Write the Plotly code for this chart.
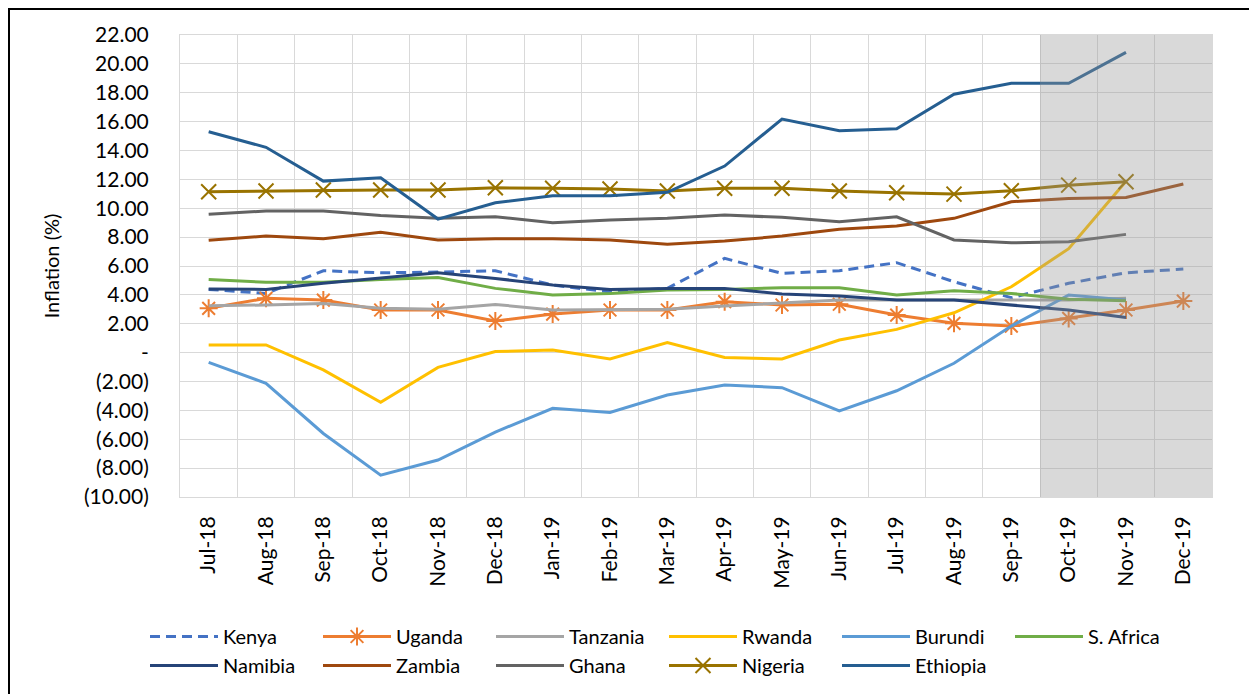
import plotly.graph_objects as go

months = ["Jul-18", "Aug-18", "Sep-18", "Oct-18", "Nov-18", "Dec-18",
          "Jan-19", "Feb-19", "Mar-19", "Apr-19", "May-19", "Jun-19",
          "Jul-19", "Aug-19", "Sep-19", "Oct-19", "Nov-19", "Dec-19"]

kenya     = [4.38, 4.10, 5.67, 5.53, 5.58, 5.67, 4.68, 4.20, 4.45, 6.53, 5.49, 5.67, 6.23, 4.91, 3.80, 4.80, 5.53, 5.79]
uganda    = [3.07, 3.76, 3.64, 2.95, 2.95, 2.19, 2.67, 2.95, 2.95, 3.53, 3.30, 3.35, 2.60, 2.03, 1.84, 2.37, 2.95, 3.57]
tanzania  = [3.25, 3.30, 3.41, 3.07, 3.00, 3.34, 2.95, 2.95, 3.00, 3.23, 3.46, 3.64, 3.65, 3.65, 3.60, 3.65, 3.77, None]
rwanda    = [0.53, 0.53, -1.20, -3.44, -1.02, 0.07, 0.18, -0.44, 0.69, -0.33, -0.44, 0.87, 1.61, 2.76, 4.56, 7.20, 11.87, None]
burundi   = [-0.67, -2.13, -5.60, -8.49, -7.44, -5.50, -3.86, -4.14, -2.94, -2.24, -2.43, -4.04, -2.64, -0.74, 1.84, 3.99, 3.64, None]
s_africa  = [5.07, 4.87, 4.87, 5.07, 5.21, 4.45, 3.99, 4.10, 4.33, 4.38, 4.50, 4.50, 3.99, 4.29, 4.10, 3.69, 3.60, None]
namibia   = [4.40, 4.38, 4.80, 5.14, 5.53, 5.14, 4.68, 4.38, 4.45, 4.45, 4.06, 3.92, 3.64, 3.64, 3.30, 2.95, 2.44, None]
zambia    = [7.78, 8.07, 7.89, 8.33, 7.80, 7.89, 7.89, 7.80, 7.50, 7.73, 8.07, 8.54, 8.77, 9.30, 10.45, 10.68, 10.75, 11.68]
ghana     = [9.58, 9.81, 9.81, 9.49, 9.30, 9.41, 9.00, 9.18, 9.30, 9.53, 9.37, 9.07, 9.41, 7.80, 7.61, 7.68, 8.19, None]
nigeria   = [11.14, 11.19, 11.26, 11.26, 11.26, 11.42, 11.38, 11.33, 11.19, 11.38, 11.38, 11.19, 11.07, 10.98, 11.21, 11.60, 11.84, None]
ethiopia  = [15.30, 14.22, 11.88, 12.11, 9.25, 10.38, 10.87, 10.87, 11.10, 12.92, 16.18, 15.37, 15.50, 17.90, 18.65, 18.65, 20.80, None]

y_ticks = list(range(-10, 23, 2))
forecast_start = "Oct-19"

FONT = "Lato, 'Open Sans', sans-serif"


def fmt(v):
    if v == 0:
        return "-"
    if v < 0:
        return "({:.2f})".format(-v)
    return "{:.2f}".format(v)


series = [
    ("Kenya", kenya, "#4472C4", "dash", None),
    ("Uganda", uganda, "#ED7D31", "solid", "asterisk-open"),
    ("Tanzania", tanzania, "#A5A5A5", "solid", None),
    ("Rwanda", rwanda, "#FFC000", "solid", None),
    ("Burundi", burundi, "#5B9BD5", "solid", None),
    ("S. Africa", s_africa, "#70AD47", "solid", None),
    ("Namibia", namibia, "#264478", "solid", None),
    ("Zambia", zambia, "#9E480E", "solid", None),
    ("Ghana", ghana, "#636363", "solid", None),
    ("Nigeria", nigeria, "#997300", "solid", "x-thin-open"),
    ("Ethiopia", ethiopia, "#255E91", "solid", None),
]

fig = go.Figure()
for name, vals, color, dash, sym in series:
    kw = {}
    if sym:
        mode = "lines+markers"
        kw["marker"] = dict(symbol=sym, size=15, color=color,
                            line=dict(color=color, width=2))
    else:
        mode = "lines"
    fig.add_trace(go.Scatter(
        x=months, y=vals, name=name, mode=mode,
        line=dict(color=color, width=3, dash=("10px,6px" if dash == "dash" else "solid")),
        connectgaps=False, **kw))

# Forecast shading (overlay above the lines)
i0 = months.index(forecast_start) - 0.5
i1 = len(months) - 0.5
fig.add_shape(type="rect", xref="x", yref="y", x0=i0, x1=i1,
              y0=y_ticks[0], y1=y_ticks[-1], layer="above",
              fillcolor="rgba(150,150,150,0.36)", line=dict(width=0))

# The page has an 8px body margin, so the figure is drawn 8px smaller
OFF = 8
W, H = 1257 - OFF, 694 - OFF
L, R, T, B = 180 - OFF, 45, 35 - OFF, 197
pw, ph = W - L - R, H - T - B


def px_x(p):
    return (p - OFF - L) / pw


def px_y(p):
    return (H - B - (p - OFF)) / ph


fig.add_shape(type="rect", xref="paper", yref="paper",
              x0=px_x(9), x1=px_x(1251), y0=px_y(720), y1=px_y(9),
              line=dict(color="black", width=2), fillcolor="rgba(0,0,0,0)", layer="above")

fig.update_layout(
    width=W, height=H,
    margin=dict(l=L, r=R, t=T, b=B, autoexpand=False),
    paper_bgcolor="white", plot_bgcolor="white",
    font=dict(family=FONT, size=20, color="black"),
    showlegend=True,
    legend=dict(orientation="h", xref="paper", yref="paper",
                x=px_x(145), y=px_y(617), xanchor="left", yanchor="top",
                entrywidth=90, entrywidthmode="pixels", itemwidth=68,
                font=dict(family=FONT, size=20, color="black"),
                traceorder="normal", itemclick=False),
    xaxis=dict(type="category", tickson="boundaries", tickangle=-90,
               showgrid=True, gridcolor="#d9d9d9", gridwidth=1,
               ticks="", showline=True, linecolor="#d9d9d9", linewidth=1, mirror=True,
               range=[-0.5, len(months) - 0.5], ticklabelstandoff=10,
               tickfont=dict(family=FONT, size=21, color="black")),
    yaxis=dict(range=[y_ticks[0], y_ticks[-1]], tickvals=y_ticks,
               ticktext=[fmt(v) for v in y_ticks],
               showgrid=True, gridcolor="#d9d9d9", gridwidth=1, zeroline=False,
               ticks="", showline=True, linecolor="#d9d9d9", linewidth=1, mirror=True,
               ticklabelstandoff=26,
               tickfont=dict(family=FONT, size=21, color="black"),
               title=dict(text="Inflation (%)", standoff=18,
                          font=dict(family=FONT, size=20, color="black"))),
)

fig.write_html("out.html")
